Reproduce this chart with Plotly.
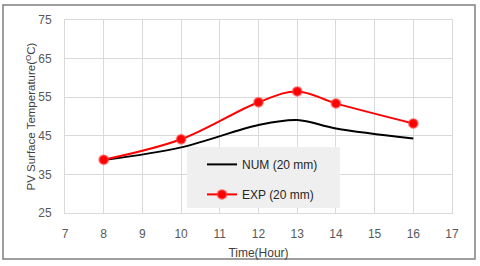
import plotly.graph_objects as go

hours = [8, 10, 12, 13, 14, 16]
num_20mm = [38.7, 42.0, 47.8, 49.1, 46.9, 44.3]
exp_20mm = [38.8, 44.1, 53.7, 56.5, 53.4, 48.2]

x_ticks = list(range(7, 18))
y_ticks = [25, 35, 45, 55, 65, 75]

FONT = "Liberation Sans"

fig = go.Figure()
fig.add_trace(go.Scatter(
    x=hours, y=num_20mm, name="NUM (20 mm)", mode="lines",
    line=dict(color="black", width=2, shape="spline"),
    legendgroup="a",
))
fig.add_trace(go.Scatter(
    x=hours, y=exp_20mm, name="EXP (20 mm)", mode="lines+markers",
    line=dict(color="#ff0000", width=2, shape="spline"),
    marker=dict(color="#ff0000", size=9, line=dict(color="rgba(255,70,70,0.55)", width=2)),
    legendgroup="b",
))

grid = "#d9d9d9"
fig.update_xaxes(
    range=[7, 17], tickvals=x_ticks, showgrid=True, gridcolor=grid, gridwidth=1,
    showline=True, linecolor=grid, mirror=True, zeroline=False, automargin=False,
    tickfont=dict(family=FONT, size=12, color="#595959"), ticklabelstandoff=10,
    title=dict(text="Time(Hour)", font=dict(family=FONT, size=12, color="#404040"), standoff=8),
)
fig.update_yaxes(
    range=[25, 75], tickvals=y_ticks, showgrid=True, gridcolor=grid, gridwidth=1,
    showline=True, linecolor=grid, mirror=True, zeroline=False, automargin=False,
    tickfont=dict(family=FONT, size=12, color="#595959"), ticklabelstandoff=10,
)

fig.add_annotation(
    text="PV Surface Temperature(<sup>O</sup>C)", textangle=-90,
    xref="paper", yref="paper", x=-0.0904, y=0.5, xanchor="center", yanchor="middle",
    showarrow=False, font=dict(family=FONT, size=11.5, color="#404040"),
)

fig.update_layout(
    width=480, height=266,
    margin=dict(l=65, r=28, t=20, b=53),
    paper_bgcolor="white", plot_bgcolor="white",
    showlegend=True,
    legend=dict(
        x=0.354, y=0.327, xanchor="left", yanchor="top",
        bgcolor="rgba(0,0,0,0)", borderwidth=0,
        font=dict(family=FONT, size=12, color="#262626"),
        traceorder="grouped", tracegroupgap=11,
    ),
    shapes=[
        dict(type="rect", xref="paper", yref="paper",
             x0=0.3152, x1=0.7106, y0=0.0259, y1=0.342,
             fillcolor="#efefef", line=dict(width=0), layer="above"),
        dict(type="rect", xref="paper", yref="paper",
             x0=-0.1602, x1=1.0594, y0=-0.2383, y1=1.0777,
             fillcolor="rgba(0,0,0,0)", line=dict(color="#7f7f7f", width=1.5), layer="above"),
    ],
)

fig.write_html("out.html", config={"displayModeBar": False},
               post_script="document.body.style.margin='0';document.body.style.padding='0';")
